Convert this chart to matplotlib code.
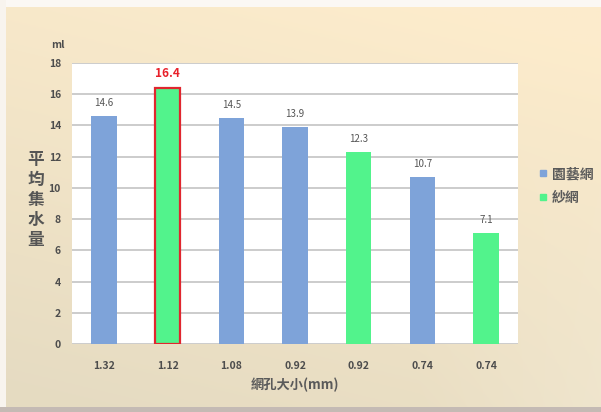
import numpy as np
import matplotlib
matplotlib.use("Agg")
from matplotlib import pyplot as plt
from matplotlib.lines import Line2D

plt.rcParams['font.family'] = ['Noto Sans CJK TC', 'DejaVu Sans']

# mesh size per sample and the average water collected (ml)
sizes = ["1.32", "1.12", "1.08", "0.92", "0.92", "0.74", "0.74"]
water = [14.6, 16.4, 14.5, 13.9, 12.3, 10.7, 7.1]
net_type = ["園藝網", "紗網", "園藝網", "園藝網", "紗網", "園藝網", "紗網"]
best = 1

net_names = ["園藝網", "紗網"]
net_colors = {"園藝網": "#7ea3d9", "紗網": "#52f38c"}

W, H = 601, 412
fig = plt.figure(figsize=(W / 100, H / 100), dpi=100)

# slide background: peach at the top fading to grey-beige below,
# light strips on the top and left edge, dark edge at the bottom
bg = fig.add_axes([0, 0, 1, 1])
bg.set_axis_off()
yy, xx = np.mgrid[0:1:200j, 0:1:300j]
top = np.array([0.99, 0.925, 0.80])
low = np.array([0.90, 0.86, 0.76])
mix = np.clip(yy * 0.85 + (1 - xx) * 0.3 - 0.1, 0, 1)[..., None]
img = top * (1 - mix) + low * mix
glow = np.clip((xx - 0.7) * 2.5, 0, 1)[..., None] * np.clip(yy - 0.25, 0, 1)[..., None]
img = img * (1 - 0.6 * glow) + np.array([0.965, 0.94, 0.87]) * 0.6 * glow
bg.imshow(img, extent=[0, 1, 0, 1], aspect="auto", origin="upper")
bg.add_patch(plt.Rectangle((0, 1 - 7 / H), 1, 7 / H, color="#fbf8f4", lw=0))
bg.add_patch(plt.Rectangle((0, 0), 6 / W, 1, color="#f8f4ee", lw=0))
bg.add_patch(plt.Rectangle((0, 0), 1, 5 / H, color="#c4bab4", lw=0))
bg.set_xlim(0, 1)
bg.set_ylim(0, 1)

ax = fig.add_axes([72 / W, 1 - 344 / H, 446 / W, 281 / H])
ax.set_facecolor("white")
x = np.arange(len(sizes))
colors = [net_colors[t] for t in net_type]
bars = ax.bar(x, water, width=0.4, color=colors, zorder=3)
bars[best].set_edgecolor("#e0262e")
bars[best].set_linewidth(1.6)

for i, v in enumerate(water):
    if i == best:
        ax.text(i, v + 0.5, f"{v}", ha="center", va="bottom", color="#e8202a",
                fontsize=8.5, fontweight="bold")
    else:
        ax.text(i, v + 0.5, f"{v}", ha="center", va="bottom", color="#555555",
                fontsize=7)

ax.set_xlim(-0.5, len(sizes) - 0.5)
ax.set_ylim(0, 18)
ax.set_yticks(range(0, 19, 2))
ax.set_xticks(x)
ax.set_xticklabels(sizes)
ax.grid(axis="y", color="#c4c4c4", lw=1.2, zorder=0)
for s in ax.spines.values():
    s.set_visible(False)
ax.tick_params(length=0, labelsize=7.5, labelcolor="#4d4d4d")
ax.tick_params(axis="x", pad=12)
ax.tick_params(axis="y", pad=8)
for lab in ax.get_xticklabels() + ax.get_yticklabels():
    lab.set_fontweight("bold")

fig.text(58 / W, 1 - 45 / H, "ml", fontsize=7.5, color="#4d4d4d",
         ha="center", va="center", fontweight="bold")
fig.text(36 / W, 1 - 200 / H, "平\n均\n集\n水\n量", fontsize=12, color="#555555",
         ha="center", va="center", linespacing=1.15, fontweight="bold")
fig.text(295 / W, 1 - 385 / H, "網孔大小(mm)", fontsize=9.5, color="#5a5a5a",
         ha="center", va="center", fontweight="bold")

handles = [Line2D([], [], marker="s", ls="", markersize=5, color=net_colors[n])
           for n in net_names]
fig.legend(handles, net_names, loc="center left",
           bbox_to_anchor=(524 / W, 1 - 186 / H), frameon=False,
           prop={"size": 10, "weight": "bold"}, labelcolor="#5a5a5a",
           handletextpad=0.1, handlelength=1.0, labelspacing=0.7)

fig.savefig("out.png", dpi=100)
